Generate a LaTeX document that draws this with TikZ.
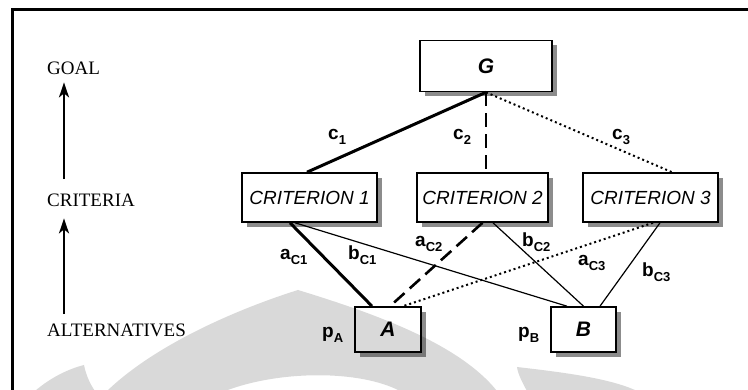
\documentclass[tikz,border=0pt]{standalone}
\usepackage{fontspec}
\setmainfont{Liberation Serif}
\setsansfont{Liberation Sans}
\usetikzlibrary{arrows.meta,calc,shadows}
\newcommand\elab[2]{{\sffamily\bfseries #1\raisebox{-5pt}{\fontsize{13}{13}\selectfont #2}}}
\begin{document}
\begin{tikzpicture}[x=1pt,y=-1pt,
  box/.style={draw,line width=1.6pt,fill=white,minimum height=49pt,inner sep=0pt,
    font=\sffamily\itshape\fontsize{19}{19}\selectfont,
    drop shadow={shadow xshift=5pt,shadow yshift=-5pt,fill=black!45,opacity=1}},
  bigbox/.style={font=\sffamily\bfseries\itshape\fontsize{21}{21}\selectfont},
  level/.style={anchor=base west,inner sep=0pt,font=\rmfamily\fontsize{19}{19}\selectfont},
  lab/.style={anchor=base west,inner sep=0pt,font=\sffamily\bfseries\fontsize{19}{19}\selectfont},
  uparrow/.style={line width=2.2pt,-{Stealth[length=15pt,width=10pt,inset=4pt]}},
  thickl/.style={line width=3pt},
  thinl/.style={line width=1.2pt},
  dashl/.style={line width=2.6pt,dash pattern=on 14pt off 7pt},
  dotl/.style={line width=2pt,dash pattern=on 2pt off 3pt},
  wm/.style={fill=black,opacity=0.15}]
\useasboundingbox (0,0) rectangle (748,390);
\fill[white] (0,0) rectangle (748,390);
% frame
\draw[line width=2.5pt] (12.5,391) -- (12.5,9.5) -- (749,9.5);
% level labels
\node[level] (goall) at (47,75) {GOAL};
\node[level] (critl) at (47,207) {CRITERIA};
\node[level] (altl) at (47,337) {ALTERNATIVES};
\draw[uparrow] ($(critl.north west)+(17,-15)$) -- ($(goall.south west)+(17,7)$);
\draw[uparrow] ($(altl.north west)+(17,-10)$) -- ($(critl.south west)+(17,11)$);
% boxes
\node[box,bigbox,minimum width=132pt,minimum height=51pt] (G) at (486,66) {G};
\node[box,minimum width=135pt] (c1) at (309.5,197.5) {CRITERION 1};
\node[box,minimum width=131pt] (c2) at (482.5,197.5) {CRITERION 2};
\node[box,minimum width=135pt] (c3) at (650.5,197.5) {CRITERION 3};
\node[box,bigbox,minimum width=66pt,minimum height=45pt] (A) at (388,329.5) {A};
\node[box,bigbox,minimum width=65pt,minimum height=45pt] (B) at (583.5,329.5) {B};
% connectors
\draw[thickl] (G.south) -- ($(c1.north)+(-2.5,0)$);
\draw[dashl] (G.south) -- (G.south |- c2.north);
\draw[dotl] (G.south) -- ($(c3.north)+(21.5,0)$);
\draw[thickl] ($(c1.south)+(-19.5,0)$) -- ($(A.north)+(-16,0)$);
\draw[thinl] ($(c1.south)+(-14.5,0)$) -- ($(B.north)+(-16.5,0)$);
\draw[dashl] (c2.south) -- ($(A.north)+(2,0)$);
\draw[thinl] ($(c2.south)+(10.5,0)$) -- (B.north);
\draw[dotl] ($(c3.south)+(2.5,0)$) -- ($(A.north)+(15,0)$);
\draw[thinl] ($(c3.south)+(9.5,0)$) -- ($(B.north)+(16.5,0)$);
% labels
\node[lab] (lc1) at (328,140) {\elab{c}{1}};
\node[lab] (lc2) at (453,140) {\elab{c}{2}};
\node[lab] (lc3) at (612,140) {\elab{c}{3}};
\node[lab] (la1) at (280,260) {\elab{a}{C1}};
\node[lab] (lb1) at (348,260) {\elab{b}{C1}};
\node[lab] (la2) at (415,247) {\elab{a}{C2}};
\node[lab] (lb2) at (522,247) {\elab{b}{C2}};
\node[lab] (la3) at (578,266) {\elab{a}{C3}};
\node[lab] (lb3) at (642,277) {\elab{b}{C3}};
\node[lab] (lpa) at (322,338) {\elab{p}{A}};
\node[lab] (lpb) at (518,338) {\elab{p}{B}};
% watermark
\fill[wm] (107,391) .. controls (160,340) and (250,305) .. (298,290)
  .. controls (380,315) and (460,345) .. (497,391) -- (400,391)
  .. controls (360,370) and (280,370) .. (225,391) -- cycle;
\fill[wm] (35,391) .. controls (50,378) and (68,369) .. (84,365)
  .. controls (86,375) and (90,384) .. (95,391) -- cycle;
\fill[wm] (517,367) .. controls (560,372) and (610,378) .. (637,391)
  -- (527,391) .. controls (522,382) and (518,374) .. (517,367) -- cycle;
\end{tikzpicture}
\end{document}
